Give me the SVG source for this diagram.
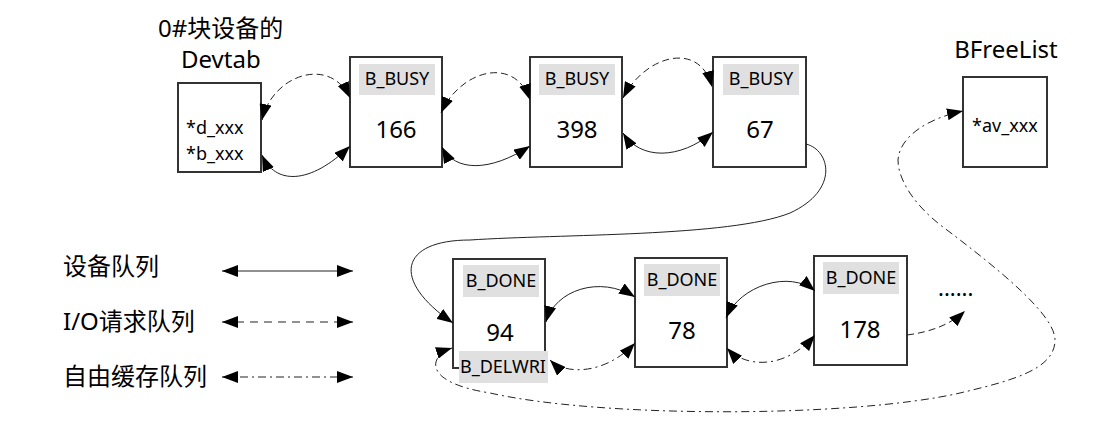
<svg xmlns="http://www.w3.org/2000/svg" width="1113" height="425" viewBox="0 0 1113 425">
<style>
text{font-family:"Noto Sans","Noto Sans CJK SC",sans-serif;fill:#000}
.box{fill:#fff;stroke:#333;stroke-width:2}
.tag{fill:#e0e0e0;stroke:none}
.t18{font-size:18px}
.t24{font-size:24px}
.mid{text-anchor:middle}
.c{fill:none;stroke:#222;stroke-width:1}
.dash{stroke-dasharray:7 4}
.dd{stroke-dasharray:8 4 2 4}
.both{marker-start:url(#ah);marker-end:url(#ah)}
.end{marker-end:url(#ah)}
</style>
<defs>
<marker id="ah" viewBox="0 0 16 12" refX="16" refY="6" markerWidth="16" markerHeight="12" markerUnits="userSpaceOnUse" orient="auto-start-reverse">
<path d="M0,0 L16,6 L0,12 z" fill="#000"/>
</marker>
</defs>
<rect width="1113" height="425" fill="#fff"/>

<g id="devtab">
<text class="t24" x="158" y="37">0#块设备的</text>
<text class="t24" x="181" y="68">Devtab</text>
<rect class="box" x="178" y="83" width="83" height="89"/>
<text class="t18" x="186" y="134">*d_xxx</text>
<text class="t18" x="186" y="160">*b_xxx</text>
</g>

<g id="buf166">
<rect class="box" x="350" y="57" width="92" height="110"/>
<rect class="tag" x="359" y="64" width="76" height="31"/>
<text class="t18 mid" x="397" y="85">B_BUSY</text>
<text class="t24 mid" x="396" y="138">166</text>
</g>

<g id="buf398">
<rect class="box" x="530" y="57" width="92" height="110"/>
<rect class="tag" x="539" y="64" width="76" height="31"/>
<text class="t18 mid" x="577" y="85">B_BUSY</text>
<text class="t24 mid" x="577" y="138">398</text>
</g>

<g id="buf67">
<rect class="box" x="713" y="57" width="93" height="110"/>
<rect class="tag" x="723" y="64" width="76" height="31"/>
<text class="t18 mid" x="761" y="85">B_BUSY</text>
<text class="t24 mid" x="760" y="138">67</text>
</g>

<g id="bfreelist">
<text class="t24 mid" x="1006" y="58">BFreeList</text>
<rect class="box" x="963" y="77" width="84" height="90"/>
<text class="t18" x="972" y="132">*av_xxx</text>
</g>

<g id="buf94">
<rect class="box" x="453" y="259" width="92" height="109"/>
<rect class="tag" x="463" y="265" width="76" height="32"/>
<text class="t18 mid" x="501" y="287">B_DONE</text>
<text class="t24 mid" x="500" y="341">94</text>
<rect class="tag" x="459" y="351" width="89" height="32"/>
<text class="t18 mid" x="503" y="373">B_DELWRI</text>
</g>

<g id="buf78">
<rect class="box" x="635" y="258" width="92" height="109"/>
<rect class="tag" x="644" y="264" width="76" height="32"/>
<text class="t18 mid" x="682" y="286">B_DONE</text>
<text class="t24 mid" x="682" y="339">78</text>
</g>

<g id="buf178">
<rect class="box" x="814" y="256" width="93" height="109"/>
<rect class="tag" x="823" y="262" width="76" height="32"/>
<text class="t18 mid" x="861" y="284">B_DONE</text>
<text class="t24 mid" x="860" y="338">178</text>
</g>

<g id="more">
<text x="938" y="296" style="font-size:22px">......</text>
</g>

<g id="legend">
<text class="t24" x="63" y="275">设备队列</text>
<text class="t24" x="63" y="330">I/O请求队列</text>
<text class="t24" x="63" y="385">自由缓存队列</text>
</g>

<g id="connectors">
<path class="c dash both" d="M262,120 C272,75 330,55 350,98"/>
<path class="c both" d="M262,155 C275,185 310,185 350,146"/>
<path class="c dash both" d="M441,113 C460,70 515,55 530,100"/>
<path class="c both" d="M442,147 C455,172 490,172 530,146"/>
<path class="c dash both" d="M623,98 C645,55 700,40 712,87"/>
<path class="c both" d="M623,133 C640,160 680,160 713,132"/>
<path class="c end" d="M806,144 C830,150 840,190 790,213 C730,237 560,234 470,240 C400,240 390,280 453,323"/>
<path class="c both" d="M546,322 C555,290 600,275 635,297"/>
<path class="c dd both" d="M550,360 C565,375 605,375 635,343"/>
<path class="c both" d="M726,318 C740,285 790,270 815,291"/>
<path class="c dd both" d="M727,348 C745,368 785,370 815,335"/>
<path class="c dash end" d="M907,335 C930,332 950,325 965,311"/>
<path class="c dd both" d="M452,348 C430,355 420,382 490,393 C600,418 850,418 960,393 C1010,381 1055,370 1055,340 C1055,315 1000,270 943,227 C915,206 898,180 898,160 C900,135 930,118 963,111"/>
<path class="c both" d="M222,271 L353,271"/>
<path class="c both" d="M222,322 L353,322" style="stroke-dasharray:8 6"/>
<path class="c dd both" d="M222,377 L353,377"/>
</g>
</svg>
